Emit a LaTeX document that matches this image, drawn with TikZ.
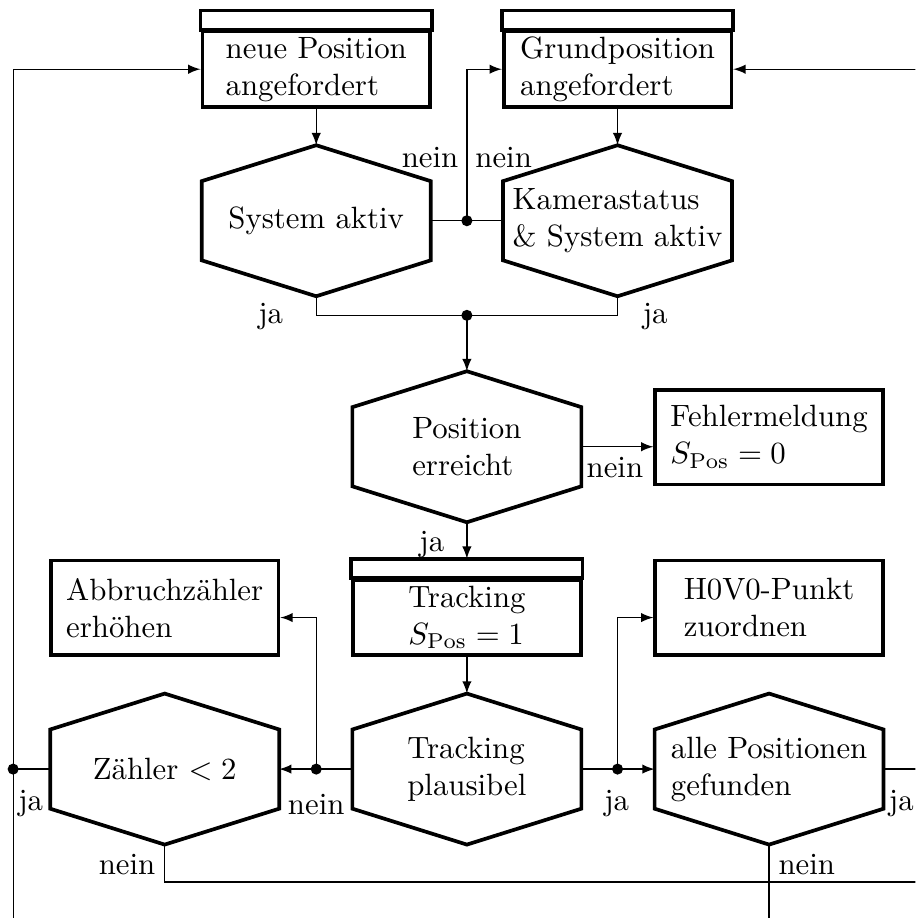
\documentclass[tikz,border=0pt]{standalone}
\usepackage{fontspec}

\tikzset{
  box/.style={draw, very thick, minimum width=2.6cm, minimum height=1.08cm, align=left},
  stepbox/.style={box, minimum height=0.86cm, inner ysep=0pt},
  hexa/.style={minimum width=2.6cm, minimum height=1.71cm, inner sep=1pt, align=left},
}

\begin{document}
\begin{tikzpicture}[>=latex]
  \clip[use as bounding box] (0,0) rectangle (10.45,-10.48);

  % Knoten
  \node[stepbox] (neu) at (3.61,-0.79) {neue Position\\angefordert};
  \node[stepbox] (grund) at (7.05,-0.79) {Grundposition\\angefordert};
  \node[hexa] (sys) at (3.61,-2.52) {System aktiv};
  \node[hexa] (kam) at (7.05,-2.52) {Kamerastatus\\\& System aktiv};
  \node[hexa] (pos) at (5.33,-5.10) {Position\\erreicht};
  \node[box] (fehler) at (8.78,-4.99) {Fehlermeldung\\$S_{\mathrm{Pos}}=0$};
  \node[stepbox] (track) at (5.33,-7.05) {Tracking\\$S_{\mathrm{Pos}}=1$};
  \node[box] (abbruch) at (1.88,-6.94) {Abbruchzähler\\erhöhen};
  \node[box] (hv) at (8.78,-6.94) {H0V0-Punkt\\zuordnen};
  \node[hexa] (plaus) at (5.33,-8.78) {Tracking\\plausibel};
  \node[hexa] (zaehl) at (1.88,-8.78) {Zähler $<2$};
  \node[hexa] (alle) at (8.78,-8.78) {alle Positionen\\gefunden};

  % Verzweigungen
  \foreach \n in {sys,kam,pos,plaus,zaehl,alle}
    \draw[very thick] (\n.north) -- ([yshift=-4.1mm]\n.north east)
      -- ([yshift=4.1mm]\n.south east) -- (\n.south)
      -- ([yshift=4.1mm]\n.south west) -- ([yshift=-4.1mm]\n.north west) -- cycle;
  % Kopfleiste
  \foreach \n in {neu,grund,track}
    \draw[very thick] (\n.north west) rectangle ([yshift=2.2mm]\n.north east);

  \coordinate (j1) at (5.33,-2.52);
  \coordinate (j2) at (5.33,-3.60);
  \coordinate (j3) at (3.61,-8.78);
  \coordinate (j4) at (7.05,-8.78);
  \coordinate (j5) at (0.15,-8.78);
  \coordinate (lb) at (0.15,-10.8);
  \coordinate (rt) at (10.8,-0.79);
  \coordinate (rm) at (10.8,-8.78);
  \coordinate (rb) at (10.8,-10.07);
  \coordinate (ab) at (8.78,-10.8);

  \begin{scope}[->]
    \draw (neu.south) to (sys.north);
    \draw (grund.south) to (kam.north);
    \draw (j1) |- (grund.west);
    \draw (rt) to (grund.east);
    \draw (lb) |- (neu.west);
    \draw (j2) to (pos.north);
    \draw (pos.east) to (pos.east -| fehler.west);
    \draw (pos.south) to ([yshift=2.2mm]track.north);
    \draw (track.south) to (plaus.north);
    \draw (j3) to (zaehl.east);
    \draw (j3) |- (abbruch.east |- track);
    \draw (j4) to (alle.west);
    \draw (j4) |- (hv.west |- track);
  \end{scope}
  \begin{scope}[-]
    \draw (sys.east) to (kam.west);
    \draw (sys.south) |- (j2) -| (kam.south);
    \draw (plaus.west) to (j3);
    \draw (plaus.east) to (j4);
    \draw (zaehl.west) to (j5);
    \draw (zaehl.south) |- (rb);
    \draw (alle.east) to (rm);
    \draw (alle.south) to (ab);
  \end{scope}
  \foreach \p in {j1,j2,j3,j4,j5}
    \fill (\p) circle (1.8pt);

  % Beschriftungen
  \node (n1) at (4.91,-1.80) {nein};
  \node (n2) at (5.75,-1.80) {nein};
  \node (y1) at (3.09,-3.61) {ja};
  \node (y2) at (7.48,-3.61) {ja};
  \node (n3) at (7.02,-5.34) {nein};
  \node (y3) at (4.93,-6.22) {ja};
  \node (n4) at (3.61,-9.19) {nein};
  \node (y4) at (0.35,-9.17) {ja};
  \node (n5) at (1.45,-9.87) {nein};
  \node (y5) at (7.04,-9.17) {ja};
  \node (y6) at (10.29,-9.17) {ja};
  \node (n6) at (9.21,-9.87) {nein};
\end{tikzpicture}
\end{document}
